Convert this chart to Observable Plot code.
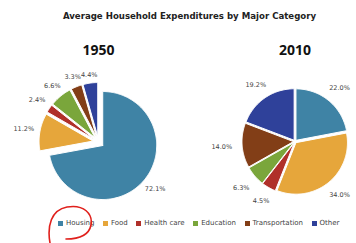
<!DOCTYPE html>
<html>
<head>
<meta charset="utf-8">
<script src="https://cdn.jsdelivr.net/npm/d3@7"></script>
<script src="https://cdn.jsdelivr.net/npm/@observablehq/plot@0.6"></script>
<style>
  html, body { margin: 0; padding: 0; background: #fff; }
  #wrap { position: relative; width: 356px; height: 243px; overflow: hidden; font-family: "DejaVu Sans", sans-serif; }
  #title { position: absolute; top: 11px; left: 0; width: 356px; padding-left: 23px; box-sizing: border-box; text-align: center; font-weight: bold; font-size: 8.6px; line-height: 10px; color: #222; }
  #chart { position: absolute; top: 30px; left: 0; }
  #legend { position: absolute; top: 218px; left: 58px; display: flex; align-items: center; font-size: 7px; line-height: 10px; color: #444; white-space: nowrap; }
  #legend .item { display: flex; align-items: center; margin-right: 8.5px; }
  #legend .sw { width: 5px; height: 5px; margin-right: 3px; }
  #annot { position: absolute; top: 0; left: 0; pointer-events: none; }
</style>
</head>
<body>
<div id="wrap">
  <div id="title"></div>
  <div id="chart"></div>
  <div id="legend"></div>
  <svg id="annot" width="356" height="243"><path d="M50,243 C47,226 51,210 67,207 C84,204 93,214 91,225 C89,235 81,239 66,239" fill="none" stroke="#e0201c" stroke-width="1.6" stroke-linecap="round"/></svg>
</div>
<script>
const titleText = "Average Household Expenditures by Major Category";
const categories = ["Housing", "Food", "Health care", "Education", "Transportation", "Other"];
const colors = ["#3f83a5", "#e6a63b", "#b0302a", "#7aa63b", "#823e17", "#2f419a"];
const years = ["1950", "2010"];
const values1950 = [72.1, 11.2, 2.4, 6.6, 3.3, 4.4];
const values2010 = [22.0, 34.0, 4.5, 6.3, 14.0, 19.2];

// layout
const W = 356, H = 183;
const pies = [
  {year: years[0], values: values1950, cx: 98, cy: 111.5, r: 54, explode: 5.5},
  {year: years[1], values: values2010, cx: 294.5, cy: 111, r: 51.5, explode: 1.5}
];
const yearY = 20;

const wedgePts = [];
const labels = [];
for (const p of pies) {
  const arcs = d3.pie().sort(null).value(d => d)(p.values);
  arcs.forEach((a, i) => {
    const mid = (a.startAngle + a.endAngle) / 2;
    const ox = p.cx + p.explode * Math.sin(mid);
    const oy = p.cy - p.explode * Math.cos(mid);
    const key = p.year + "-" + categories[i];
    wedgePts.push({key, category: categories[i], x: ox, y: oy});
    const n = Math.max(2, Math.ceil((a.endAngle - a.startAngle) / 0.02));
    for (let k = 0; k <= n; k++) {
      const t = a.startAngle + (a.endAngle - a.startAngle) * k / n;
      wedgePts.push({key, category: categories[i], x: ox + p.r * Math.sin(t), y: oy - p.r * Math.cos(t)});
    }
    wedgePts.push({key, category: categories[i], x: ox, y: oy});
    const dx = Math.sin(mid), dy = -Math.cos(mid);
    const rr = p.r + 12 + Math.abs(dx) * 10;
    labels.push({x: p.cx + rr * dx, y: p.cy + rr * dy, text: p.values[i].toFixed(1) + "%"});
  });
}

const chart = Plot.plot({
  width: W,
  height: H,
  margin: 0,
  x: {domain: [0, W], range: [0, W], axis: null},
  y: {domain: [0, H], range: [0, H], axis: null},
  color: {domain: categories, range: colors},
  style: {fontFamily: "DejaVu Sans, sans-serif", background: "transparent"},
  marks: [
    Plot.line(wedgePts, {x: "x", y: "y", z: "key", fill: "category", stroke: "white", strokeWidth: 1, curve: "linear"}),
    Plot.text(labels, {x: "x", y: "y", text: "text", fontSize: 6.5, fill: "#444"}),
    Plot.text(pies, {x: "cx", y: () => yearY, text: "year", fontSize: 14, fontWeight: "bold", fill: "#111", fontFamily: "Open Sans, sans-serif"})
  ]
});
document.getElementById("chart").appendChild(chart);
document.getElementById("title").textContent = titleText;

const legend = document.getElementById("legend");
categories.forEach((c, i) => {
  const item = document.createElement("div");
  item.className = "item";
  const sw = document.createElement("div");
  sw.className = "sw";
  sw.style.background = colors[i];
  const tx = document.createElement("span");
  tx.textContent = c;
  item.appendChild(sw);
  item.appendChild(tx);
  legend.appendChild(item);
});
</script>
</body>
</html>
